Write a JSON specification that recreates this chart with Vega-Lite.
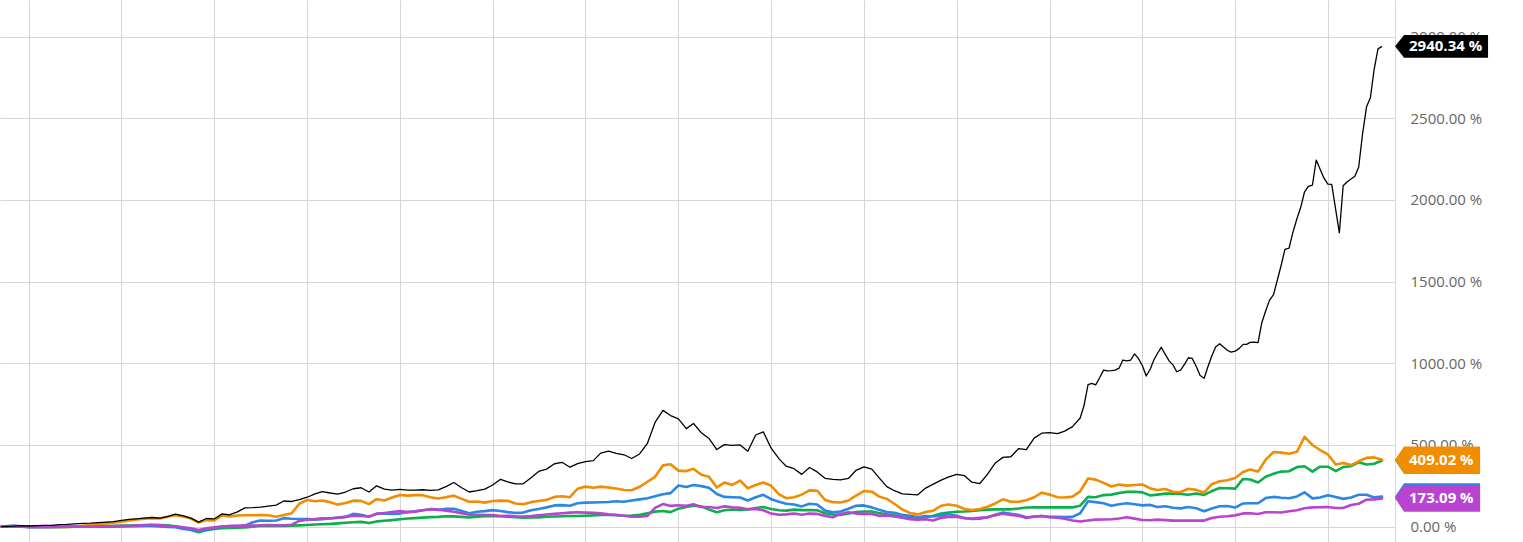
{
"$schema": "https://vega.github.io/schema/vega-lite/v6.json",
"width": 1395, "height": 542,
"autosize": {"type": "none"},
"padding": {"left": 0, "top": 0, "right": 128, "bottom": 0},
"background": "white",
"config": {"view": {"stroke": null}, "font": "Open Sans"},
"data": {"format": {"parse": {"d": "date"}}, "values": [
{"d":"2009-09-15","K":0,"O":0,"B":0,"G":0,"P":0},
{"d":"2009-10-01","K":1,"O":0,"B":2,"G":0,"P":0},
{"d":"2009-11-01","K":3,"O":1,"B":6,"G":0,"P":0},
{"d":"2009-12-01","K":6,"O":0,"B":2,"G":-1,"P":-1},
{"d":"2010-01-01","K":4,"O":-1,"B":-3,"G":-2,"P":-2},
{"d":"2010-02-01","K":6,"O":-1,"B":-4,"G":-2,"P":-2},
{"d":"2010-03-01","K":8,"O":-2,"B":-4,"G":-2,"P":-2},
{"d":"2010-04-01","K":8,"O":-1,"B":-3,"G":-2,"P":-1},
{"d":"2010-05-01","K":12,"O":-2,"B":-2,"G":-2,"P":0},
{"d":"2010-06-01","K":14,"O":-2,"B":-1,"G":-2,"P":0},
{"d":"2010-07-01","K":17,"O":0,"B":0,"G":-1,"P":0},
{"d":"2010-08-01","K":20,"O":5,"B":0,"G":0,"P":0},
{"d":"2010-09-01","K":22,"O":10,"B":0,"G":1,"P":0},
{"d":"2010-10-01","K":25,"O":16,"B":0,"G":3,"P":0},
{"d":"2010-11-01","K":28,"O":20,"B":0,"G":4,"P":1},
{"d":"2010-12-01","K":31,"O":24,"B":0,"G":5,"P":2},
{"d":"2011-01-01","K":38,"O":30,"B":1,"G":6,"P":3},
{"d":"2011-02-01","K":44,"O":38,"B":2,"G":7,"P":4},
{"d":"2011-03-01","K":48,"O":44,"B":3,"G":8,"P":6},
{"d":"2011-04-01","K":52,"O":48,"B":4,"G":9,"P":10},
{"d":"2011-05-01","K":56,"O":52,"B":4,"G":10,"P":12},
{"d":"2011-06-01","K":52,"O":50,"B":1,"G":10,"P":8},
{"d":"2011-07-01","K":62,"O":60,"B":-2,"G":8,"P":4},
{"d":"2011-08-01","K":77,"O":70,"B":-4,"G":2,"P":0},
{"d":"2011-09-01","K":66,"O":62,"B":-14,"G":-6,"P":-4},
{"d":"2011-10-01","K":52,"O":50,"B":-18,"G":-20,"P":-10},
{"d":"2011-11-01","K":28,"O":25,"B":-26,"G":-34,"P":-20},
{"d":"2011-12-01","K":50,"O":40,"B":-16,"G":-22,"P":-10},
{"d":"2012-01-01","K":47,"O":38,"B":-8,"G":-14,"P":-4},
{"d":"2012-02-01","K":78,"O":68,"B":0,"G":-10,"P":0},
{"d":"2012-03-01","K":72,"O":62,"B":4,"G":-8,"P":3},
{"d":"2012-04-01","K":90,"O":68,"B":4,"G":-7,"P":5},
{"d":"2012-05-01","K":115,"O":70,"B":6,"G":-5,"P":6},
{"d":"2012-06-01","K":116,"O":70,"B":27,"G":0,"P":7},
{"d":"2012-07-01","K":120,"O":71,"B":38,"G":4,"P":9},
{"d":"2012-08-01","K":126,"O":70,"B":36,"G":4,"P":10},
{"d":"2012-09-01","K":132,"O":60,"B":38,"G":4,"P":9},
{"d":"2012-10-01","K":157,"O":71,"B":52,"G":4,"P":9},
{"d":"2012-11-01","K":154,"O":82,"B":48,"G":6,"P":12},
{"d":"2012-12-01","K":165,"O":140,"B":47,"G":8,"P":35},
{"d":"2013-01-01","K":180,"O":163,"B":47,"G":10,"P":42},
{"d":"2013-02-01","K":200,"O":155,"B":43,"G":13,"P":46},
{"d":"2013-03-01","K":215,"O":160,"B":46,"G":15,"P":51},
{"d":"2013-04-01","K":206,"O":150,"B":50,"G":17,"P":51},
{"d":"2013-05-01","K":199,"O":135,"B":55,"G":20,"P":54},
{"d":"2013-06-01","K":212,"O":145,"B":60,"G":24,"P":60},
{"d":"2013-07-01","K":232,"O":159,"B":78,"G":27,"P":67},
{"d":"2013-08-01","K":238,"O":158,"B":72,"G":29,"P":65},
{"d":"2013-09-01","K":212,"O":138,"B":60,"G":22,"P":62},
{"d":"2013-10-01","K":250,"O":168,"B":80,"G":32,"P":78},
{"d":"2013-11-01","K":230,"O":160,"B":79,"G":36,"P":84},
{"d":"2013-12-01","K":224,"O":178,"B":78,"G":40,"P":90},
{"d":"2014-01-01","K":228,"O":194,"B":80,"G":45,"P":95},
{"d":"2014-02-01","K":224,"O":190,"B":90,"G":50,"P":89},
{"d":"2014-03-01","K":224,"O":193,"B":94,"G":52,"P":92},
{"d":"2014-04-01","K":226,"O":192,"B":100,"G":55,"P":100},
{"d":"2014-05-01","K":222,"O":180,"B":107,"G":58,"P":107},
{"d":"2014-06-01","K":225,"O":172,"B":102,"G":60,"P":104},
{"d":"2014-07-01","K":245,"O":180,"B":110,"G":64,"P":98},
{"d":"2014-08-01","K":270,"O":190,"B":110,"G":63,"P":91},
{"d":"2014-09-01","K":238,"O":170,"B":96,"G":60,"P":82},
{"d":"2014-10-01","K":212,"O":152,"B":82,"G":56,"P":73},
{"d":"2014-11-01","K":220,"O":154,"B":91,"G":61,"P":73},
{"d":"2014-12-01","K":230,"O":147,"B":95,"G":64,"P":71},
{"d":"2015-01-01","K":255,"O":157,"B":101,"G":65,"P":71},
{"d":"2015-02-01","K":290,"O":159,"B":96,"G":64,"P":65},
{"d":"2015-03-01","K":274,"O":158,"B":89,"G":61,"P":67},
{"d":"2015-04-01","K":262,"O":142,"B":84,"G":58,"P":63},
{"d":"2015-05-01","K":262,"O":137,"B":86,"G":55,"P":62},
{"d":"2015-06-01","K":300,"O":150,"B":100,"G":56,"P":65},
{"d":"2015-07-01","K":338,"O":157,"B":108,"G":57,"P":70},
{"d":"2015-08-01","K":352,"O":164,"B":118,"G":61,"P":74},
{"d":"2015-09-01","K":385,"O":182,"B":130,"G":62,"P":78},
{"d":"2015-10-01","K":394,"O":186,"B":132,"G":64,"P":82},
{"d":"2015-11-01","K":364,"O":180,"B":128,"G":65,"P":86},
{"d":"2015-12-01","K":386,"O":232,"B":143,"G":65,"P":88},
{"d":"2016-01-01","K":398,"O":245,"B":147,"G":67,"P":86},
{"d":"2016-02-01","K":404,"O":238,"B":148,"G":69,"P":84},
{"d":"2016-03-01","K":450,"O":245,"B":149,"G":71,"P":82},
{"d":"2016-04-01","K":462,"O":240,"B":151,"G":71,"P":76},
{"d":"2016-05-01","K":449,"O":233,"B":155,"G":70,"P":72},
{"d":"2016-06-01","K":440,"O":224,"B":152,"G":67,"P":67},
{"d":"2016-07-01","K":417,"O":223,"B":160,"G":68,"P":61},
{"d":"2016-08-01","K":445,"O":244,"B":167,"G":72,"P":61},
{"d":"2016-09-01","K":510,"O":275,"B":174,"G":82,"P":66},
{"d":"2016-10-01","K":638,"O":305,"B":186,"G":92,"P":115},
{"d":"2016-11-01","K":712,"O":375,"B":198,"G":96,"P":138},
{"d":"2016-12-01","K":680,"O":382,"B":205,"G":89,"P":127},
{"d":"2017-01-01","K":660,"O":343,"B":252,"G":110,"P":131},
{"d":"2017-02-01","K":600,"O":340,"B":243,"G":120,"P":128},
{"d":"2017-03-01","K":632,"O":354,"B":255,"G":128,"P":137},
{"d":"2017-04-01","K":575,"O":318,"B":248,"G":124,"P":120},
{"d":"2017-05-01","K":540,"O":305,"B":238,"G":105,"P":120},
{"d":"2017-06-01","K":472,"O":240,"B":200,"G":88,"P":114},
{"d":"2017-07-01","K":502,"O":270,"B":182,"G":100,"P":124},
{"d":"2017-08-01","K":497,"O":255,"B":180,"G":105,"P":119},
{"d":"2017-09-01","K":500,"O":282,"B":178,"G":102,"P":116},
{"d":"2017-10-01","K":462,"O":235,"B":160,"G":105,"P":107},
{"d":"2017-11-01","K":561,"O":255,"B":180,"G":114,"P":108},
{"d":"2017-12-01","K":580,"O":270,"B":195,"G":120,"P":100},
{"d":"2018-01-01","K":480,"O":250,"B":168,"G":108,"P":80},
{"d":"2018-02-01","K":415,"O":198,"B":152,"G":100,"P":73},
{"d":"2018-03-01","K":370,"O":174,"B":140,"G":98,"P":75},
{"d":"2018-04-01","K":355,"O":180,"B":136,"G":104,"P":80},
{"d":"2018-05-01","K":320,"O":196,"B":124,"G":101,"P":73},
{"d":"2018-06-01","K":362,"O":222,"B":140,"G":102,"P":80},
{"d":"2018-07-01","K":335,"O":220,"B":136,"G":100,"P":78},
{"d":"2018-08-01","K":296,"O":163,"B":98,"G":82,"P":66},
{"d":"2018-09-01","K":290,"O":150,"B":88,"G":75,"P":57},
{"d":"2018-10-01","K":286,"O":148,"B":93,"G":72,"P":78},
{"d":"2018-11-01","K":295,"O":160,"B":110,"G":80,"P":88},
{"d":"2018-12-01","K":345,"O":190,"B":128,"G":89,"P":80},
{"d":"2019-01-01","K":366,"O":218,"B":130,"G":93,"P":78},
{"d":"2019-02-01","K":352,"O":214,"B":118,"G":93,"P":78},
{"d":"2019-03-01","K":300,"O":185,"B":104,"G":83,"P":66},
{"d":"2019-04-01","K":245,"O":170,"B":90,"G":75,"P":69},
{"d":"2019-05-01","K":220,"O":140,"B":85,"G":69,"P":63},
{"d":"2019-06-01","K":200,"O":105,"B":72,"G":58,"P":54},
{"d":"2019-07-01","K":198,"O":84,"B":66,"G":52,"P":46},
{"d":"2019-08-01","K":195,"O":75,"B":58,"G":53,"P":42},
{"d":"2019-09-01","K":236,"O":90,"B":65,"G":58,"P":45},
{"d":"2019-10-01","K":260,"O":98,"B":62,"G":67,"P":38},
{"d":"2019-11-01","K":285,"O":128,"B":68,"G":80,"P":55},
{"d":"2019-12-01","K":305,"O":136,"B":76,"G":87,"P":59},
{"d":"2020-01-01","K":320,"O":128,"B":67,"G":91,"P":59},
{"d":"2020-02-01","K":312,"O":108,"B":52,"G":93,"P":53},
{"d":"2020-03-01","K":272,"O":102,"B":47,"G":96,"P":48},
{"d":"2020-04-01","K":264,"O":108,"B":49,"G":100,"P":54},
{"d":"2020-05-01","K":320,"O":122,"B":57,"G":104,"P":57},
{"d":"2020-06-01","K":390,"O":142,"B":73,"G":106,"P":70},
{"d":"2020-07-01","K":424,"O":167,"B":87,"G":106,"P":79},
{"d":"2020-08-01","K":428,"O":152,"B":79,"G":106,"P":72},
{"d":"2020-09-01","K":478,"O":152,"B":72,"G":111,"P":66},
{"d":"2020-10-01","K":472,"O":162,"B":57,"G":117,"P":53},
{"d":"2020-11-01","K":542,"O":180,"B":61,"G":118,"P":62},
{"d":"2020-12-01","K":572,"O":208,"B":65,"G":118,"P":65},
{"d":"2021-01-01","K":576,"O":196,"B":60,"G":118,"P":58},
{"d":"2021-02-01","K":570,"O":180,"B":60,"G":118,"P":54},
{"d":"2021-03-01","K":585,"O":178,"B":58,"G":118,"P":48},
{"d":"2021-04-01","K":612,"O":184,"B":60,"G":118,"P":38},
{"d":"2021-05-01","K":665,"O":216,"B":82,"G":128,"P":31},
{"d":"2021-06-01","K":870,"O":295,"B":155,"G":182,"P":38},
{"d":"2021-07-01","K":868,"O":288,"B":150,"G":180,"P":43},
{"d":"2021-08-01","K":958,"O":268,"B":143,"G":193,"P":44},
{"d":"2021-09-01","K":955,"O":246,"B":128,"G":196,"P":45},
{"d":"2021-10-01","K":970,"O":258,"B":137,"G":206,"P":50},
{"d":"2021-11-01","K":1015,"O":251,"B":143,"G":213,"P":57},
{"d":"2021-12-01","K":1058,"O":255,"B":137,"G":214,"P":49},
{"d":"2022-01-01","K":985,"O":258,"B":130,"G":210,"P":41},
{"d":"2022-02-01","K":965,"O":234,"B":133,"G":191,"P":39},
{"d":"2022-03-01","K":1060,"O":224,"B":120,"G":196,"P":43},
{"d":"2022-04-01","K":1055,"O":230,"B":125,"G":202,"P":40},
{"d":"2022-05-01","K":990,"O":214,"B":116,"G":203,"P":37},
{"d":"2022-06-01","K":960,"O":212,"B":112,"G":200,"P":37},
{"d":"2022-07-01","K":1034,"O":232,"B":120,"G":195,"P":38},
{"d":"2022-08-01","K":980,"O":225,"B":113,"G":203,"P":37},
{"d":"2022-09-01","K":908,"O":208,"B":94,"G":194,"P":37},
{"d":"2022-10-01","K":1045,"O":260,"B":111,"G":218,"P":53},
{"d":"2022-11-01","K":1120,"O":278,"B":125,"G":237,"P":61},
{"d":"2022-12-01","K":1080,"O":284,"B":126,"G":235,"P":64},
{"d":"2023-01-01","K":1074,"O":298,"B":117,"G":233,"P":69},
{"d":"2023-02-01","K":1116,"O":335,"B":142,"G":292,"P":81},
{"d":"2023-03-01","K":1128,"O":350,"B":143,"G":289,"P":82},
{"d":"2023-04-01","K":1126,"O":338,"B":143,"G":270,"P":77},
{"d":"2023-05-01","K":1320,"O":410,"B":175,"G":305,"P":88},
{"d":"2023-06-01","K":1420,"O":457,"B":182,"G":324,"P":88},
{"d":"2023-07-01","K":1600,"O":453,"B":177,"G":337,"P":87},
{"d":"2023-08-01","K":1705,"O":446,"B":174,"G":339,"P":94},
{"d":"2023-09-01","K":1885,"O":458,"B":185,"G":365,"P":100},
{"d":"2023-10-01","K":2050,"O":550,"B":210,"G":370,"P":113},
{"d":"2023-11-01","K":2090,"O":500,"B":173,"G":337,"P":118},
{"d":"2023-12-01","K":2190,"O":469,"B":178,"G":367,"P":119},
{"d":"2024-01-01","K":2097,"O":442,"B":192,"G":367,"P":120},
{"d":"2024-02-01","O":380,"B":182,"G":340,"P":114},
{"d":"2024-03-01","K":2087,"O":390,"B":170,"G":365,"P":114},
{"d":"2024-04-01","K":2128,"O":377,"B":179,"G":370,"P":133},
{"d":"2024-05-01","K":2200,"O":400,"B":195,"G":394,"P":140},
{"d":"2024-06-01","K":2570,"O":421,"B":195,"G":380,"P":165},
{"d":"2024-07-01","K":2800,"O":424,"B":179,"G":385,"P":167},
{"d":"2024-08-01","K":2940.34,"O":409.02,"B":184,"G":405,"P":173.09},
{"d":"2021-05-16","K":740},
{"d":"2021-06-16","K":877},
{"d":"2021-07-16","K":910},
{"d":"2021-08-16","K":953},
{"d":"2021-09-16","K":958},
{"d":"2021-10-16","K":1020},
{"d":"2021-11-16","K":1020},
{"d":"2021-12-16","K":1030},
{"d":"2022-01-16","K":922},
{"d":"2022-02-15","K":1020},
{"d":"2022-03-16","K":1098},
{"d":"2022-04-16","K":1015},
{"d":"2022-05-16","K":948},
{"d":"2022-06-16","K":995},
{"d":"2022-07-16","K":1030},
{"d":"2022-08-16","K":925},
{"d":"2022-09-16","K":980},
{"d":"2022-10-16","K":1100},
{"d":"2022-11-16","K":1100},
{"d":"2022-12-16","K":1068},
{"d":"2023-01-16","K":1090},
{"d":"2023-02-15","K":1116},
{"d":"2023-03-16","K":1130},
{"d":"2023-04-16","K":1250},
{"d":"2023-05-16","K":1385},
{"d":"2023-06-16","K":1510},
{"d":"2023-07-16","K":1698},
{"d":"2023-08-16","K":1800},
{"d":"2023-09-16","K":1955},
{"d":"2023-10-16","K":2083},
{"d":"2023-11-16","K":2244},
{"d":"2023-12-16","K":2135},
{"d":"2024-01-16","K":2095},
{"d":"2024-02-15","K":1799},
{"d":"2024-03-16","K":2110},
{"d":"2024-04-16","K":2145},
{"d":"2024-05-16","K":2400},
{"d":"2024-06-16","K":2625},
{"d":"2024-07-16","K":2925}
]},
"transform": [
  {"fold": ["G", "B", "O", "P", "K"], "as": ["s", "v"]},
  {"filter": "isValid(datum.v)"}
],
"encoding": {
  "x": {"field": "d", "type": "temporal",
    "scale": {"type": "utc", "domain": [{"year": 2009, "month": 9, "date": 10, "utc": true}, {"year": 2024, "month": 9, "date": 21, "utc": true}]},
    "axis": {"title": null, "labels": false, "ticks": false, "domain": false, "grid": true, "gridColor": "#d6d6d6", "gridWidth": 1,
      "values": [{"year":2010,"month":1,"date":1,"utc":true},{"year":2011,"month":1,"date":1,"utc":true},{"year":2012,"month":1,"date":1,"utc":true},{"year":2013,"month":1,"date":1,"utc":true},{"year":2014,"month":1,"date":1,"utc":true},{"year":2015,"month":1,"date":1,"utc":true},{"year":2016,"month":1,"date":1,"utc":true},{"year":2017,"month":1,"date":1,"utc":true},{"year":2018,"month":1,"date":1,"utc":true},{"year":2019,"month":1,"date":1,"utc":true},{"year":2020,"month":1,"date":1,"utc":true},{"year":2021,"month":1,"date":1,"utc":true},{"year":2022,"month":1,"date":1,"utc":true},{"year":2023,"month":1,"date":1,"utc":true},{"year":2024,"month":1,"date":1,"utc":true}]}},
  "y": {"field": "v", "type": "quantitative",
    "scale": {"domain": [-94, 3224], "nice": false, "zero": false},
    "axis": {"orient": "right", "title": null, "values": [0, 500, 1000, 1500, 2000, 2500, 3000], "grid": true, "gridColor": "#d6d6d6", "gridWidth": 1,
      "domain": true, "domainColor": "#d6d6d6", "ticks": false, "tickSize": 0, "labelPadding": 15, "labelFontSize": 15, "labelFont": "Open Sans", "labelColor": "#666666", "labelAlign": "left", "labelBaseline": "middle",
      "labelExpr": "format(datum.value, '.2f') + ' %'"}},
  "color": {"field": "s", "type": "nominal", "legend": null,
    "scale": {"domain": ["K", "O", "B", "G", "P"], "range": ["#000000", "#f28c00", "#2b87e3", "#0cb04a", "#b944cf"]}}
},
"layer": [
  {"transform": [{"filter": "datum.s != 'K'"}], "mark": {"type": "line", "strokeWidth": 2.6, "strokeJoin": "round", "strokeCap": "round"}},
  {"transform": [{"filter": "datum.s == 'K'"}], "mark": {"type": "line", "strokeWidth": 1.3, "strokeJoin": "round"}},
  {"transform": [{"filter": "utcyear(datum.d) == 2024 && utcmonth(datum.d) == 7 && utcdate(datum.d) == 1"}],
   "mark": {"type": "point", "filled": true, "opacity": 1, "size": 40000, "strokeWidth": 0},
   "encoding": {"shape": {"condition": {"test": "datum.s == 'K'", "value": "M0.13,0L0.22,-0.113L1.06,-0.113L1.06,0.113L0.22,0.113Z"}, "value": "M0.13,0L0.22,-0.133L0.98,-0.133L0.98,0.133L0.22,0.133Z"}}},
  {"transform": [{"filter": "utcyear(datum.d) == 2024 && utcmonth(datum.d) == 7 && utcdate(datum.d) == 1 && (datum.s == 'K' || datum.s == 'O' || datum.s == 'P')"}, {"calculate": "format(datum.v, '.2f') + ' %'", "as": "lbl"}],
   "mark": {"type": "text", "align": "left", "baseline": "middle", "dx": 27, "fontSize": 15, "fontWeight": "bold", "font": "Open Sans"},
   "encoding": {"text": {"field": "lbl"}, "color": {"value": "#ffffff"}}}
]
}
